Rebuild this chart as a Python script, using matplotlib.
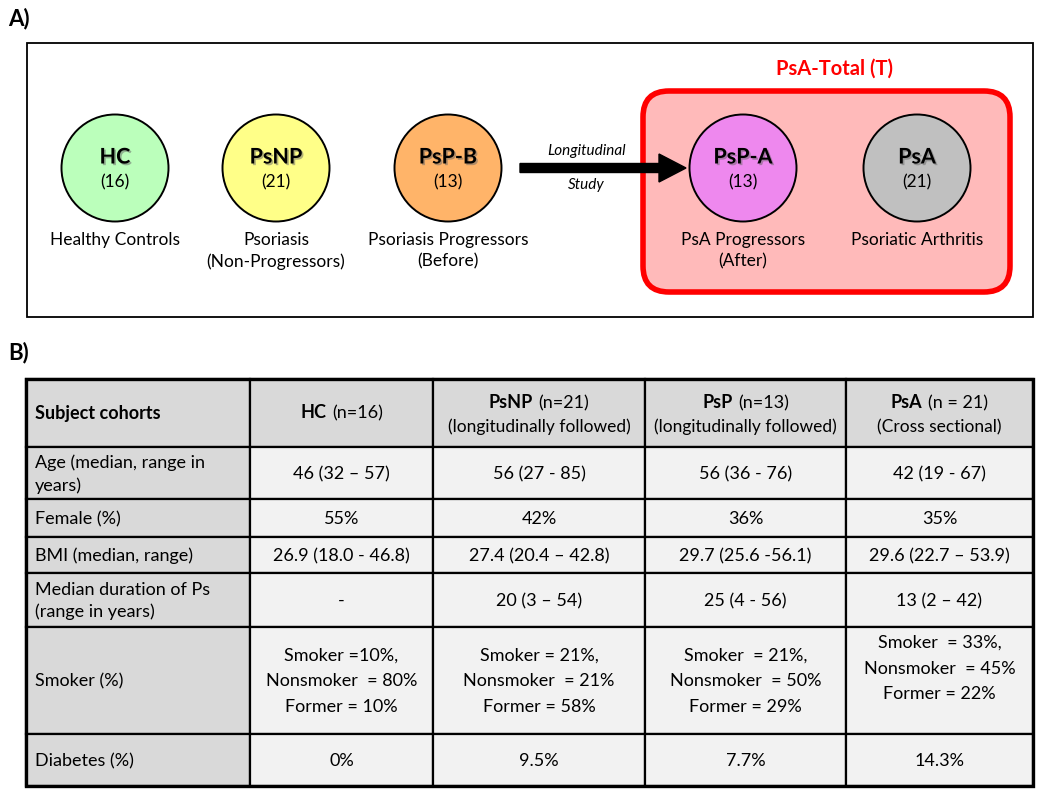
import matplotlib
matplotlib.use("Agg")
import matplotlib.pyplot as plt
import matplotlib.patches as mpatches
import matplotlib.patheffects as pe
from matplotlib.offsetbox import TextArea, HPacker, AnnotationBbox

plt.rcParams['font.family'] = ['Lato', 'DejaVu Sans']

# ---- panel A data ----
cohort_names = ["HC", "PsNP", "PsP-B", "PsP-A", "PsA"]
cohort_counts = [16, 21, 13, 13, 21]
cohort_desc = ["Healthy Controls", "Psoriasis\n(Non-Progressors)",
               "Psoriasis Progressors\n(Before)", "PsA Progressors\n(After)",
               "Psoriatic Arthritis"]
cohort_colors = ["#BBFFBB", "#FFFF88", "#FFB469", "#EE88EE", "#C0C0C0"]
group_title = "PsA-Total (T)"
arrow_text = ["Longitudinal", "Study"]

# ---- panel B data ----
col_bold = ["HC", "PsNP", "PsP", "PsA"]
col_n = ["(n=16)", "(n=21)", "(n=13)", "(n = 21)"]
col_sub = ["", "(longitudinally followed)", "(longitudinally followed)", "(Cross sectional)"]
row_labels = ["Age (median, range in\nyears)", "Female (%)", "BMI (median, range)",
              "Median duration of Ps\n(range in years)", "Smoker (%)", "Diabetes (%)"]
age = ["46 (32 \u2013 57)", "56 (27 - 85)", "56 (36 - 76)", "42 (19 - 67)"]
female = ["55%", "42%", "36%", "35%"]
bmi = ["26.9 (18.0 - 46.8)", "27.4 (20.4 \u2013 42.8)", "29.7 (25.6 -56.1)", "29.6 (22.7 \u2013 53.9)"]
duration = ["-", "20 (3 \u2013 54)", "25 (4 - 56)", "13 (2 \u2013 42)"]
smoker = ["Smoker =10%,\nNonsmoker  = 80%\nFormer = 10%",
          "Smoker = 21%,\nNonsmoker  = 21%\nFormer = 58%",
          "Smoker  = 21%,\nNonsmoker  = 50%\nFormer = 29%",
          "Smoker  = 33%,\nNonsmoker  = 45%\nFormer = 22%\n"]
diabetes = ["0%", "9.5%", "7.7%", "14.3%"]
table_rows = [age, female, bmi, duration, smoker, diabetes]

fig = plt.figure(figsize=(10.5, 7.96), dpi=100)
ax = fig.add_axes([0, 0, 1, 1])
ax.set_xlim(0, 1050)
ax.set_ylim(796, 0)
ax.axis('off')

# ---------------- Panel A ----------------
ax.text(8, 19, "A)", fontsize=16, fontweight='bold', va='center', ha='left')
ax.add_patch(mpatches.Rectangle((27, 43), 1006, 274, fill=False, ec='black', lw=1.3))

# PsA-Total group box
ax.add_patch(mpatches.FancyBboxPatch((643, 91), 367, 201,
                                     boxstyle="round,pad=0,rounding_size=26",
                                     fc="#FFBABA", ec="#FF0000", lw=4))
ax.text(834, 69, group_title, color="#FF0000", fontsize=14.5, fontweight='bold',
        ha='center', va='center')

circle_x = [115, 276, 448, 743, 917]
cy = 168
shadow = [pe.SimplePatchShadow(offset=(1.2, -1.2), shadow_rgbFace='#666666', alpha=0.5),
          pe.Normal()]
for x, name, n, desc, col in zip(circle_x, cohort_names, cohort_counts, cohort_desc, cohort_colors):
    ax.add_patch(mpatches.Circle((x, cy), 53.5, fc=col, ec='black', lw=1.4))
    ax.text(x, cy - 11, name, fontsize=15.5, fontweight='bold', ha='center', va='center',
            path_effects=shadow)
    ax.text(x, cy + 14, f"({n})", fontsize=12.5, ha='center', va='center')
    ax.text(x, 232, desc, fontsize=12.5, ha='center', va='top', linespacing=1.4)

# longitudinal arrow
ax.add_patch(mpatches.FancyArrow(520, cy, 166, 0, width=9, head_width=28, head_length=27,
                                 length_includes_head=True, fc='black', ec='black'))
ax.text(586, 151, arrow_text[0], fontsize=11, style='italic', ha='center', va='center')
ax.text(586, 185, arrow_text[1], fontsize=11, style='italic', ha='center', va='center')

# ---------------- Panel B ----------------
ax.text(8, 353, "B)", fontsize=16, fontweight='bold', va='center', ha='left')

col_edges = [26, 250, 433, 645, 846, 1033]
row_edges = [379, 447, 499, 537, 573, 627, 734, 786]
hdr_gray = "#D9D9D9"
cell_gray = "#F2F2F2"

for r in range(len(row_edges) - 1):
    for c in range(len(col_edges) - 1):
        fc = hdr_gray if (r == 0 or c == 0) else cell_gray
        ax.add_patch(mpatches.Rectangle((col_edges[c], row_edges[r]),
                                        col_edges[c + 1] - col_edges[c],
                                        row_edges[r + 1] - row_edges[r],
                                        fc=fc, ec='black', lw=1.6))
ax.add_patch(mpatches.Rectangle((col_edges[0], row_edges[0]), col_edges[-1] - col_edges[0],
                                row_edges[-1] - row_edges[0], fill=False, ec='black', lw=2.4))

fs = 13
# header row
hy = (row_edges[0] + row_edges[1]) / 2
ax.text(col_edges[0] + 9, hy, "Subject cohorts", fontsize=fs, fontweight='bold',
        ha='left', va='center')
for c in range(4):
    xc = (col_edges[c + 1] + col_edges[c + 2]) / 2
    line1 = HPacker(children=[TextArea(col_bold[c], textprops=dict(fontsize=fs, fontweight='bold')),
                              TextArea(col_n[c], textprops=dict(fontsize=fs))],
                    align='baseline', pad=0, sep=4)
    y1 = hy - 10 if col_sub[c] else hy
    ax.add_artist(AnnotationBbox(line1, (xc, y1), xycoords='data', frameon=False,
                                 box_alignment=(0.5, 0.5)))
    if col_sub[c]:
        ax.text(xc, hy + 14, col_sub[c], fontsize=12.5, ha='center', va='center')

# body rows
for r, (label, vals) in enumerate(zip(row_labels, table_rows)):
    yc = (row_edges[r + 1] + row_edges[r + 2]) / 2
    ax.text(col_edges[0] + 9, yc + 1, label, fontsize=fs, ha='left', va='center', linespacing=1.45)
    for c, v in enumerate(vals):
        xc = (col_edges[c + 1] + col_edges[c + 2]) / 2
        ax.text(xc, yc + 1, v, fontsize=fs, ha='center', va='center', linespacing=1.75)

fig.savefig("out.png", dpi=100)
